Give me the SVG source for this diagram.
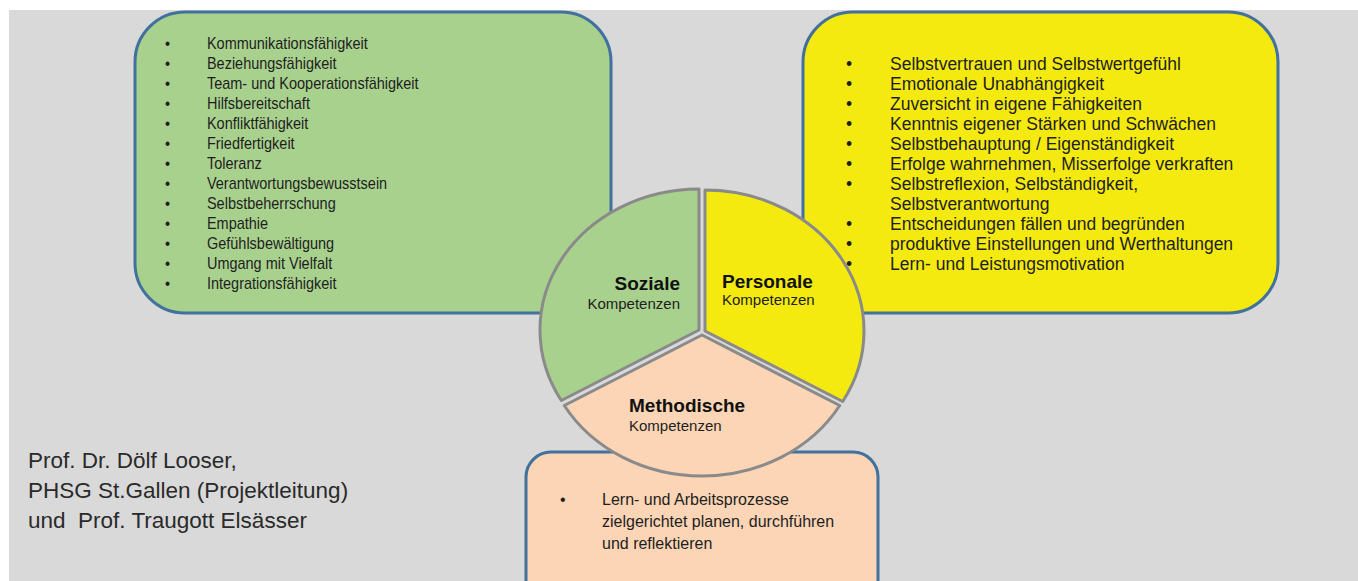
<svg xmlns="http://www.w3.org/2000/svg" width="1358" height="581" viewBox="0 0 1358 581">
<style>
.box{stroke:#41719C;stroke-width:3}
.wedge{stroke:#8A8A8A;stroke-width:3;stroke-linejoin:round}
.g{font-family:"Liberation Sans",Arial,sans-serif;font-size:16px;fill:#1e1e1e}
.y{font-family:"Liberation Sans",Arial,sans-serif;font-size:17.5px;fill:#1e1e1e}
.m{font-family:"Liberation Sans",Arial,sans-serif;font-size:16px;fill:#1e1e1e}
.h{font-family:"Liberation Sans",Arial,sans-serif;font-size:19px;font-weight:bold;fill:#111}
.k{font-family:"Liberation Sans",Arial,sans-serif;font-size:15px;fill:#1e1e1e}
.a{font-family:"Liberation Sans",Arial,sans-serif;font-size:22.5px;fill:#2a2a2a}
</style>
<rect x="0" y="0" width="1358" height="581" fill="#ffffff"/>
<rect x="9" y="10" width="1349" height="571" fill="#D9D9D9"/>

<g id="soziale-box">
<rect class="box" x="135" y="12" width="476" height="301" rx="50" fill="#A9D18E"/>
<g class="g" transform="scale(0.905,1)">
<text x="182.3" y="49">•</text><text x="228.7" y="49">Kommunikationsfähigkeit</text>
<text x="182.3" y="69">•</text><text x="228.7" y="69">Beziehungsfähigkeit</text>
<text x="182.3" y="89">•</text><text x="228.7" y="89">Team- und Kooperationsfähigkeit</text>
<text x="182.3" y="109">•</text><text x="228.7" y="109">Hilfsbereitschaft</text>
<text x="182.3" y="129">•</text><text x="228.7" y="129">Konfliktfähigkeit</text>
<text x="182.3" y="149">•</text><text x="228.7" y="149">Friedfertigkeit</text>
<text x="182.3" y="169">•</text><text x="228.7" y="169">Toleranz</text>
<text x="182.3" y="189">•</text><text x="228.7" y="189">Verantwortungsbewusstsein</text>
<text x="182.3" y="209">•</text><text x="228.7" y="209">Selbstbeherrschung</text>
<text x="182.3" y="229">•</text><text x="228.7" y="229">Empathie</text>
<text x="182.3" y="249">•</text><text x="228.7" y="249">Gefühlsbewältigung</text>
<text x="182.3" y="269">•</text><text x="228.7" y="269">Umgang mit Vielfalt</text>
<text x="182.3" y="289">•</text><text x="228.7" y="289">Integrationsfähigkeit</text>
</g>
</g>

<g id="personale-box">
<rect class="box" x="803" y="12" width="475" height="301" rx="50" fill="#F4EA10"/>
<g class="y">
<text x="846" y="70">•</text><text x="890" y="70">Selbstvertrauen und Selbstwertgefühl</text>
<text x="846" y="90">•</text><text x="890" y="90">Emotionale Unabhängigkeit</text>
<text x="846" y="110">•</text><text x="890" y="110">Zuversicht in eigene Fähigkeiten</text>
<text x="846" y="130">•</text><text x="890" y="130">Kenntnis eigener Stärken und Schwächen</text>
<text x="846" y="150">•</text><text x="890" y="150">Selbstbehauptung / Eigenständigkeit</text>
<text x="846" y="170">•</text><text x="890" y="170">Erfolge wahrnehmen, Misserfolge verkraften</text>
<text x="846" y="190">•</text><text x="890" y="190">Selbstreflexion, Selbständigkeit,</text>
<text x="890" y="210">Selbstverantwortung</text>
<text x="846" y="230">•</text><text x="890" y="230">Entscheidungen fällen und begründen</text>
<text x="846" y="250">•</text><text x="890" y="250">produktive Einstellungen und Werthaltungen</text>
<text x="846" y="270">•</text><text x="890" y="270">Lern- und Leistungsmotivation</text>
</g>
</g>

<g id="methodische-box">
<rect class="box" x="526" y="452" width="352" height="170" rx="25" fill="#FBD5B5"/>
<g class="m">
<text x="560" y="505">•</text><text x="602" y="505">Lern- und Arbeitsprozesse</text>
<text x="602" y="527">zielgerichtet planen, durchführen</text>
<text x="602" y="549">und reflektieren</text>
</g>
</g>

<g id="pie">
<g id="wedge-soziale">
<path class="wedge" fill="#A9D18E" d="M699,330 L699,189 A159,141 0 0 0 561.3,400.5 Z"/>
<text class="h" x="680" y="290" text-anchor="end">Soziale</text>
<text class="k" x="680" y="309" text-anchor="end">Kompetenzen</text>
</g>
<g id="wedge-personale">
<path class="wedge" fill="#F4EA10" d="M705,331 L705,190 A159,141 0 0 1 842.7,401.5 Z"/>
<text class="h" x="722" y="288">Personale</text>
<text class="k" x="722" y="305">Kompetenzen</text>
</g>
<g id="wedge-methodische">
<path class="wedge" fill="#FBD5B5" d="M702,335 L564.3,405.5 A159,141 0 0 0 839.7,405.5 Z"/>
<text class="h" x="629" y="412">Methodische</text>
<text class="k" x="629" y="431">Kompetenzen</text>
</g>
</g>

<g id="connectors"></g>

<g id="author">
<text class="a" x="28" y="468">Prof. Dr. Dölf Looser,</text>
<text class="a" x="28" y="498">PHSG St.Gallen (Projektleitung)</text>
<text class="a" x="28" y="528" xml:space="preserve">und  Prof. Traugott Elsässer</text>
</g>
</svg>
